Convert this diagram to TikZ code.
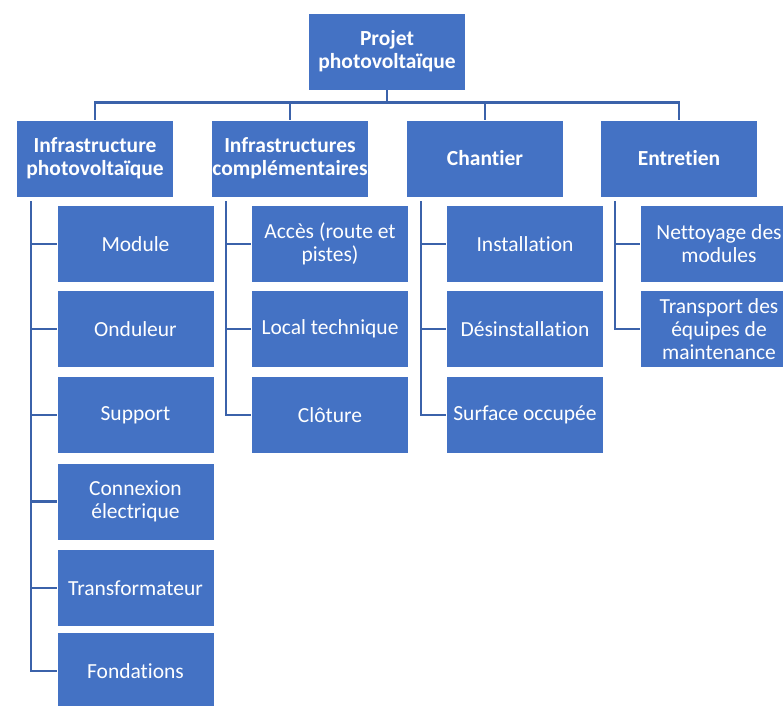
\documentclass[tikz,border=0pt]{standalone}
\usepackage{fontspec}
\setmainfont{Carlito}[Ligatures=NoCommon]
\definecolor{boxblue}{HTML}{4472C4}
\definecolor{lineblue}{HTML}{3B62AA}
\tikzset{
 boite/.style={rectangle, fill=boxblue, draw=white, line width=0.8pt, minimum width=157pt, minimum height=77pt, inner sep=0pt, align=center, text=white, font=\fontsize{21.5}{23}\selectfont},
 titre/.style={boite, font=\fontsize{21.5}{23}\selectfont\bfseries},
 lien/.style={lineblue, line width=2.2pt}
}
\begin{document}
\begin{tikzpicture}[x=1pt,y=-1pt,line join=miter]
 \useasboundingbox (0,0) rectangle (783,705);
 % niveau 0 et 1
 \node[titre] (projet) at (387,51.5) {Projet\\photovoltaïque};
 \node[titre] (infra) at (95,158.5) {Infrastructure\\photovoltaïque};
 \node[titre] (compl) at (290,158.5) {Infrastructures\\complémentaires};
 \node[titre] (chantier) at (485,158.5) {Chantier};
 \node[titre] (entretien) at (679,158.5) {Entretien};
 \draw[lien] (projet.south) -- ++(0,12) coordinate (bus);
 \draw[lien] (infra.north) |- (bus) -| (entretien.north);
 \draw[lien] (compl.north) -- (compl.north |- bus);
 \draw[lien] (chantier.north) -- (chantier.north |- bus);
 % infrastructure photovoltaique
 \node[boite] (module) at (135.5,244) {Module};
 \node[boite] (onduleur) at (135.5,329) {Onduleur};
 \node[boite] (support) at (135.5,415) {Support};
 \node[boite] (connexion) at (135.5,501.5) {Connexion\\électrique};
 \node[boite] (transfo) at (135.5,588) {Transformateur};
 \node[boite] (fondations) at (135.5,671) {Fondations};
 \coordinate (c1) at ([shift={(15,4)}]infra.south west);
 \draw[lien] (c1) |- (fondations.west);
 \draw[lien] (c1 |- module.west) -- (module.west);
 \draw[lien] (c1 |- onduleur.west) -- (onduleur.west);
 \draw[lien] (c1 |- support.west) -- (support.west);
 \draw[lien] (c1 |- connexion.west) -- (connexion.west);
 \draw[lien] (c1 |- transfo.west) -- (transfo.west);
 % infrastructures complementaires
 \node[boite] (acces) at (330,244) {Accès (route et\\pistes)};
 \node[boite] (local) at (330,329) {Local technique};
 \node[boite] (cloture) at (330,415) {Clôture};
 \coordinate (c2) at ([shift={(15,4)}]compl.south west);
 \draw[lien] (c2) |- (cloture.west);
 \draw[lien] (c2 |- acces.west) -- (acces.west);
 \draw[lien] (c2 |- local.west) -- (local.west);
 % chantier
 \node[boite] (install) at (525,244) {Installation};
 \node[boite] (desinstall) at (525,329) {Désinstallation};
 \node[boite] (surface) at (525,415) {Surface occupée};
 \coordinate (c3) at ([shift={(15,4)}]chantier.south west);
 \draw[lien] (c3) |- (surface.west);
 \draw[lien] (c3 |- install.west) -- (install.west);
 \draw[lien] (c3 |- desinstall.west) -- (desinstall.west);
 % entretien
 \node[boite] (nettoyage) at (719,244) {Nettoyage des\\modules};
 \node[boite] (transport) at (719,329) {Transport des\\équipes de\\maintenance};
 \coordinate (c4) at ([shift={(15,4)}]entretien.south west);
 \draw[lien] (c4) |- (transport.west);
 \draw[lien] (c4 |- nettoyage.west) -- (nettoyage.west);
\end{tikzpicture}
\end{document}
